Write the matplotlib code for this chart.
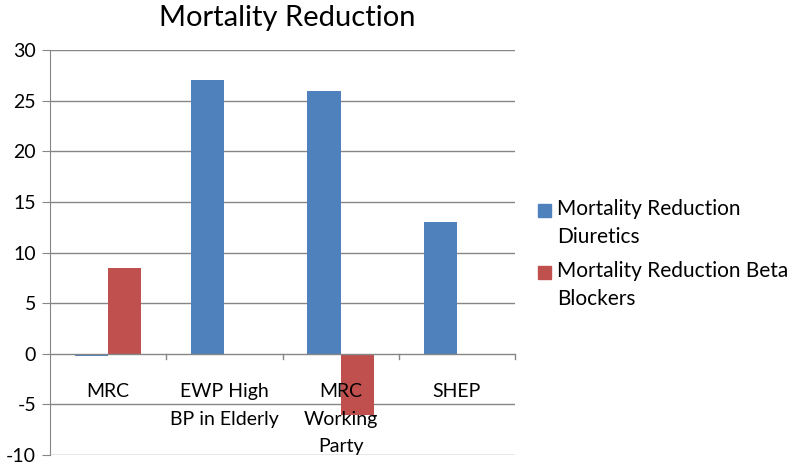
import matplotlib
matplotlib.use("Agg")
import matplotlib.pyplot as plt
from matplotlib.patches import Rectangle
from matplotlib.transforms import blended_transform_factory
import numpy as np

categories = ["MRC", "EWP High\nBP in Elderly", "MRC\nWorking\nParty", "SHEP"]
diuretics = [-0.2, 27, 26, 13]
beta_blockers = [8.5, 0, -6, 0]
series_names = ["Mortality Reduction\nDiuretics", "Mortality Reduction Beta\nBlockers"]
yticks = [-10, -5, 0, 5, 10, 15, 20, 25, 30]

plt.rcParams['font.family'] = ['Lato', 'DejaVu Sans']

W, H = 791, 470
fig = plt.figure(figsize=(W/100, H/100), dpi=100)
ax = fig.add_axes([50/W, 1-455/H, (515-50)/W, (455-50)/H])

blue = "#4f81bd"
red = "#c0504d"
grid = "#868686"
colors = [blue, red]

x = np.arange(len(categories))
bw = 1/3.5
ax.bar(x - bw/2, diuretics, bw, color=blue, zorder=3)
ax.bar(x + bw/2, beta_blockers, bw, color=red, zorder=3)

ax.set_xlim(-0.5, len(categories) - 0.5)
ax.set_ylim(-10, 30)
ax.set_yticks(yticks)
ax.set_yticklabels([str(v) for v in yticks], fontsize=14)
for v in yticks:
    if v != 0:
        ax.axhline(v, color=grid, lw=1, zorder=1)
ax.axhline(0, color=grid, lw=1, zorder=4)
for s in ["top", "right", "bottom"]:
    ax.spines[s].set_visible(False)
ax.spines["left"].set_color(grid)
ax.tick_params(axis="y", length=6, color=grid, pad=4)
ax.set_xticks([])
for b in np.arange(0.5, len(categories), 1.0):
    ax.plot([b, b], [0, -0.5], color=grid, lw=1, zorder=4, clip_on=False)

tr = blended_transform_factory(ax.transData, fig.transFigure)
line_gap = 27.5
first_base = 397
for i, c in enumerate(categories):
    for j, line in enumerate(c.split("\n")):
        ax.text(i, 1 - (first_base + j*line_gap)/H, line, ha="center", va="baseline",
                fontsize=14, zorder=5, transform=tr)

fig.text(287/W, 1-26/H, "Mortality Reduction", ha="center", va="baseline", fontsize=21)

# legend
item_base = [215, 277]
for k, name in enumerate(series_names):
    b0 = item_base[k]
    fig.patches.append(Rectangle((538/W, 1-(b0+2)/H), 13/W, 13/H,
                                 transform=fig.transFigure, color=colors[k]))
    for j, line in enumerate(name.split("\n")):
        fig.text(557/W, 1-(b0 + j*28)/H, line, ha="left", va="baseline", fontsize=15)

fig.savefig("out.png", dpi=100)
